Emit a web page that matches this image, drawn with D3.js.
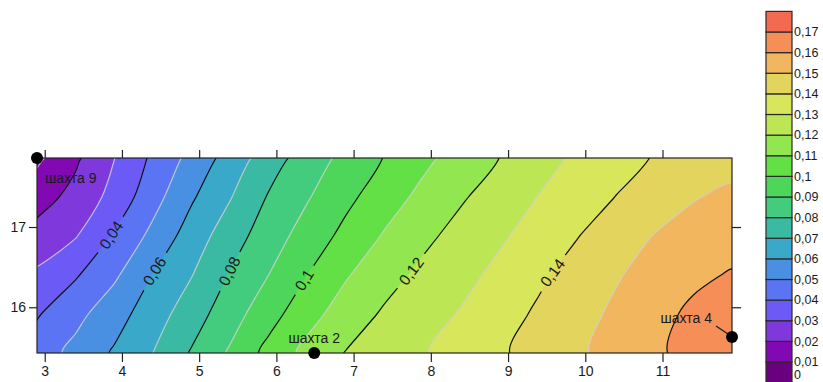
<!DOCTYPE html>
<html>
<head>
<meta charset="utf-8">
<script src="https://cdn.jsdelivr.net/npm/d3@7"></script>
<style>
  body { margin: 0; background: #fff; }
  text { font-family: "Liberation Sans", Arial, sans-serif; fill: #1a1a1a; }
</style>
</head>
<body>
<svg id="chart" width="823" height="382"></svg>
<script>
// grid of values (columns = x, rows = y, top row first)
const gridXs = [2.9, 3.4, 3.9, 4.4, 4.9, 5.4, 5.9, 6.4, 6.9, 7.4, 7.9, 8.4, 8.9, 9.4, 9.9, 10.4, 10.9, 11.4, 11.9]
const gridYs = [17.86, 17.374, 16.888, 16.402, 15.916, 15.43]
const gridValues = [
  [0.008, 0.0183, 0.0298, 0.0418, 0.0530, 0.0640, 0.0751, 0.0848, 0.0928, 0.1004, 0.1076, 0.1141, 0.1202, 0.1262, 0.1317, 0.1363, 0.1406, 0.1438, 0.147],
  [0.0157, 0.0232, 0.0332, 0.0463, 0.0587, 0.0694, 0.0808, 0.0892, 0.0975, 0.1054, 0.1126, 0.1190, 0.1247, 0.1303, 0.1352, 0.1402, 0.1449, 0.1495, 0.1517],
  [0.0237, 0.0294, 0.0411, 0.0526, 0.0647, 0.0753, 0.0853, 0.0941, 0.1028, 0.1109, 0.1177, 0.1235, 0.1287, 0.1342, 0.1397, 0.1452, 0.1504, 0.1533, 0.1563],
  [0.0317, 0.0390, 0.0483, 0.0602, 0.0696, 0.0807, 0.0900, 0.1000, 0.1091, 0.1163, 0.1223, 0.1272, 0.1325, 0.1383, 0.1438, 0.1491, 0.1538, 0.1582, 0.1607],
  [0.0391, 0.0471, 0.0559, 0.0653, 0.0753, 0.0857, 0.0961, 0.1064, 0.1147, 0.1213, 0.1260, 0.1308, 0.1362, 0.1415, 0.1466, 0.1518, 0.1573, 0.1617, 0.1650],
  [0.0448, 0.0529, 0.0611, 0.0700, 0.0808, 0.0912, 0.1031, 0.1129, 0.1204, 0.1248, 0.1293, 0.1340, 0.1388, 0.1437, 0.1485, 0.1535, 0.1584, 0.1632, 0.168]
]

const levels = [0, 0.01, 0.02, 0.03, 0.04, 0.05, 0.06, 0.07, 0.08, 0.09, 0.1, 0.11, 0.12, 0.13, 0.14, 0.15, 0.16, 0.17]
const bandColors = ["#6a0080", "#8208b4", "#7f38dc", "#6c5af6", "#5a74f4", "#4a90e2",
                    "#3aa8c8", "#3abaa2", "#44cc7e", "#4ed65a", "#62e046", "#92e650",
                    "#bde654", "#d7e65a", "#e2d45c", "#f2b65e", "#f68e58", "#f26a50"]
const labelledLevels = [0.04, 0.06, 0.08, 0.1, 0.12, 0.14]
const labelAtY = [16.9, 16.45, 16.45, 16.34, 16.45, 16.43]

const xTicks = [3, 4, 5, 6, 7, 8, 9, 10, 11]
const yTicks = [16, 17]

const wellNames = ["шахта 9", "шахта 2", "шахта 4"]
const wellX = [2.9, 6.49, 11.9]
const wellY = [17.86, 15.43, 15.63]

const fmt = v => String(+v.toFixed(2)).replace(".", ",")

const svg = d3.select("#chart"),
      margin = {left: 37, top: 158, right: 91, bottom: 29},
      width = +svg.attr("width") - margin.left - margin.right,
      height = +svg.attr("height") - margin.top - margin.bottom

const x = d3.scaleLinear().domain([2.9, 11.9]).range([margin.left, margin.left + width])
const y = d3.scaleLinear().domain([15.43, 17.86]).range([margin.top + height, margin.top])

const nx = gridXs.length, ny = gridYs.length
const stepX = gridXs[1] - gridXs[0], stepY = gridYs[0] - gridYs[1]

// grid cell coordinates -> pixels (d3.contours puts sample i at i + 0.5)
const toPx = (cx, cy) => [x(gridXs[0] + (cx - 0.5) * stepX), y(gridYs[0] - (cy - 0.5) * stepY)]

// smooth the marching-squares rings so the isolines look like the original
const ringLine = d3.line().curve(d3.curveCatmullRomClosed.alpha(0.5))
const smoothPath = mp => mp.coordinates
  .map(poly => poly.map(ring => ringLine(ring.slice(0, -1).map(p => toPx(p[0], p[1])))).join(""))
  .join("")

const contours = d3.contours()
  .size([nx, ny])
  .thresholds(levels)(gridValues.flat())

const defs = svg.append("defs")
defs.append("clipPath").attr("id", "plotClip")
    .append("rect")
    .attr("x", margin.left).attr("y", margin.top)
    .attr("width", width).attr("height", height)

const plot = svg.append("g").attr("clip-path", "url(#plotClip)")

// filled bands
plot.append("g")
  .selectAll("path")
  .data(contours)
  .join("path")
  .attr("d", smoothPath)
  .attr("fill", d => bandColors[levels.indexOf(d.value)])
  .attr("stroke", d => bandColors[levels.indexOf(d.value)])
  .attr("stroke-width", 0.5)

// label positions along each labelled contour
const labels = labelledLevels.map((lv, k) => {
  const c = contours.find(d => Math.abs(d.value - lv) < 1e-9)
  const ty = y(labelAtY[k])
  let best = null
  c.coordinates.forEach(poly => poly.forEach(ring => {
    const pts = ring.map(p => toPx(p[0], p[1]))
    for (let i = 1; i < pts.length; i++) {
      const [x1, y1] = pts[i - 1], [x2, y2] = pts[i]
      if ((y1 - ty) * (y2 - ty) > 0 || y1 === y2) continue
      const t = (ty - y1) / (y2 - y1)
      const px = x1 + t * (x2 - x1)
      if (px < margin.left + 3 || px > margin.left + width - 3) continue
      let a = Math.atan2(y2 - y1, x2 - x1) * 180 / Math.PI
      if (a > 90) a -= 180
      if (a < -90) a += 180
      best = {x: px, y: ty, angle: a, text: fmt(lv)}
    }
  }))
  return best
}).filter(d => d)

// mask so black lines break under the labels
const mask = defs.append("mask").attr("id", "labelGap").attr("maskUnits", "userSpaceOnUse")
mask.append("rect").attr("x", 0).attr("y", 0).attr("width", 823).attr("height", 382).attr("fill", "#fff")
mask.selectAll("rect.gap")
  .data(labels)
  .join("rect")
  .attr("class", "gap")
  .attr("x", d => -d.text.length * 4.7 - 3)
  .attr("y", -8)
  .attr("width", d => d.text.length * 9.4 + 6)
  .attr("height", 16)
  .attr("fill", "#000")
  .attr("transform", d => `translate(${d.x},${d.y}) rotate(${d.angle})`)

// odd levels: light lines
plot.append("g")
  .selectAll("path")
  .data(contours.filter(d => Math.round(d.value * 100) % 2 === 1))
  .join("path")
  .attr("d", smoothPath)
  .attr("fill", "none")
  .attr("stroke", "#d0d0d0")
  .attr("stroke-opacity", 0.85)
  .attr("stroke-width", 1.2)

// even levels: black lines
plot.append("g")
  .attr("mask", "url(#labelGap)")
  .selectAll("path")
  .data(contours.filter(d => d.value > 0 && Math.round(d.value * 100) % 2 === 0))
  .join("path")
  .attr("d", smoothPath)
  .attr("fill", "none")
  .attr("stroke", "#111")
  .attr("stroke-width", 1.2)

plot.append("g")
  .selectAll("text")
  .data(labels)
  .join("text")
  .attr("transform", d => `translate(${d.x},${d.y}) rotate(${d.angle})`)
  .attr("text-anchor", "middle")
  .attr("dy", "0.35em")
  .style("font-size", "15.5px")
  .text(d => d.text)

// frame
svg.append("rect")
  .attr("x", margin.left).attr("y", margin.top)
  .attr("width", width).attr("height", height)
  .attr("fill", "none").attr("stroke", "#222").attr("stroke-width", 1.2)

// axes
function styleAxis(g) {
  g.select(".domain").remove()
  g.selectAll(".tick line").attr("stroke", "#222").attr("stroke-width", 1.2)
  g.selectAll(".tick text").style("font-size", "14px").attr("fill", "#1a1a1a")
}
svg.append("g")
  .attr("transform", `translate(0,${margin.top + height})`)
  .call(d3.axisBottom(x).tickValues(xTicks).tickSize(9).tickPadding(4).tickFormat(d3.format("d")))
  .call(styleAxis)
svg.append("g")
  .attr("transform", `translate(0,${margin.top})`)
  .call(d3.axisTop(x).tickValues(xTicks).tickSize(8).tickFormat(""))
  .call(styleAxis)
svg.append("g")
  .attr("transform", `translate(${margin.left},0)`)
  .call(d3.axisLeft(y).tickValues(yTicks).tickSize(8).tickPadding(3).tickFormat(d3.format("d")))
  .call(styleAxis)
svg.append("g")
  .attr("transform", `translate(${margin.left + width},0)`)
  .call(d3.axisRight(y).tickValues(yTicks).tickSize(9).tickFormat(""))
  .call(styleAxis)

// wells
const wells = wellNames.map((n, i) => ({name: n, x: wellX[i], y: wellY[i]}))
const wellLabelPos = [
  {dx: 8, dy: 25, anchor: "start"},
  {dx: 0, dy: -10, anchor: "middle"},
  {dx: -20, dy: -14, anchor: "end"}
]
const wg = svg.append("g")
wg.append("line")
  .attr("x1", x(wellX[2]) - 16).attr("y1", y(wellY[2]) - 11)
  .attr("x2", x(wellX[2]) - 4).attr("y2", y(wellY[2]) - 3)
  .attr("stroke", "#222").attr("stroke-width", 1.3)
wg.selectAll("circle")
  .data(wells)
  .join("circle")
  .attr("cx", d => x(d.x)).attr("cy", d => y(d.y))
  .attr("r", 6).attr("fill", "#000")
wg.selectAll("text")
  .data(wells)
  .join("text")
  .attr("x", (d, i) => x(d.x) + wellLabelPos[i].dx)
  .attr("y", (d, i) => y(d.y) + wellLabelPos[i].dy)
  .attr("text-anchor", (d, i) => wellLabelPos[i].anchor)
  .style("font-size", "14px")
  .attr("fill", "#2a2a2a")
  .text(d => d.name)

// legend
const legY = d3.scaleLinear().domain([0, 0.17]).range([382.6, 32])
const leg = svg.append("g")
leg.selectAll("rect")
  .data(bandColors)
  .join("rect")
  .attr("x", 766)
  .attr("y", (c, i) => legY((i + 1) / 100))
  .attr("width", 26)
  .attr("height", (c, i) => legY(i / 100) - legY((i + 1) / 100))
  .attr("fill", c => c)
  .attr("stroke", "#2a2a2a")
  .attr("stroke-width", 1.2)
leg.selectAll("text")
  .data(levels)
  .join("text")
  .attr("x", 794)
  .attr("y", d => Math.min(legY(d), 375))
  .attr("dy", "0.35em")
  .style("font-size", "12.5px")
  .text(d => fmt(d))
</script>
</body>
</html>
